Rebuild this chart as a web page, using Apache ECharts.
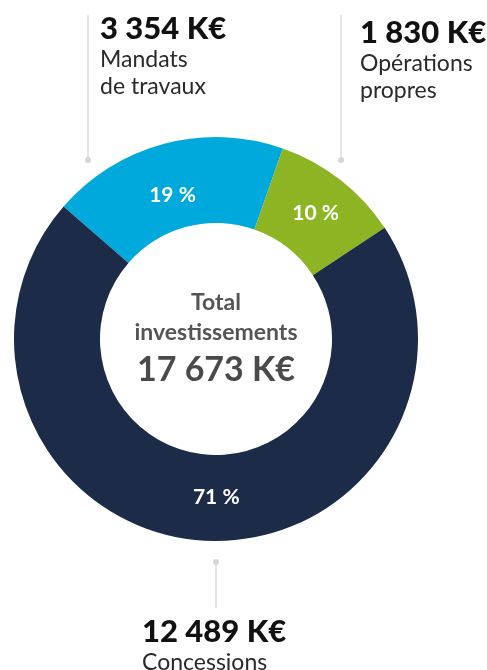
<!DOCTYPE html>
<html>
<head>
<meta charset="utf-8">
<script src="https://cdn.jsdelivr.net/npm/echarts@6/dist/echarts.min.js"></script>
<style>
  html, body { margin: 0; padding: 0; background: #fff; }
  #chart { width: 487px; height: 670px; }
</style>
</head>
<body>
<div id="chart"></div>
<script>
// =====================
// Data
// =====================
const CATEGORIES = ["Mandats\nde travaux", "Opérations\npropres", "Concessions"]
const VALUES = [3354, 1830, 12489]   // K€
const COLORS = ["#00a9dc", "#8cb423", "#1b2b48"]
const TOTAL_LABEL = ["Total", "investissements"]

const FONT = "Lato, 'Noto Sans', sans-serif"

function fmtK(v) {
  return String(v).replace(/\B(?=(\d{3})+(?!\d))/g, " ") + " K€"
}

const total = VALUES.reduce((a, b) => a + b, 0)

// =====================
// Layout of annotations
// =====================
const NOTES = [
  { x: 100, y: 29, lineX: 88, lineTop: 15, lineBottom: 160 },
  { x: 360, y: 33, lineX: 341, lineTop: 15, lineBottom: 160 },
  { x: 142, y: 632, lineX: 216, lineTop: 562, lineBottom: 608, dotTop: true }
]
// nudges for the in-slice percentage labels
const LABEL_OFFSETS = [[-2, 13], [0, 2], [11, -3]]

const graphics = []

NOTES.forEach((n, i) => {
  const dotY = n.dotTop ? n.lineTop : n.lineBottom
  graphics.push({
    type: "line",
    shape: { x1: n.lineX, y1: n.lineTop, x2: n.lineX, y2: n.lineBottom },
    style: { stroke: "#dcdcdc", lineWidth: 1.5 }
  })
  graphics.push({
    type: "circle",
    shape: { cx: n.lineX, cy: dotY, r: 3 },
    style: { fill: "#d6d6d6" }
  })
  graphics.push({
    type: "text",
    x: n.x,
    y: n.y,
    style: {
      text: fmtK(VALUES[i]),
      font: `900 31px ${FONT}`,
      fill: "#111",
      verticalAlign: "middle",
      align: "left"
    }
  })
  CATEGORIES[i].split("\n").forEach((line, k) => {
    graphics.push({
      type: "text",
      x: n.x,
      y: n.y + 31 + k * 27,
      style: {
        text: line,
        font: `23px ${FONT}`,
        fill: "#2a2a2a",
        verticalAlign: "middle",
        align: "left"
      }
    })
  })
})

// center text
TOTAL_LABEL.forEach((line, k) => {
  graphics.push({
    type: "text",
    x: 216,
    y: 303 + k * 30,
    style: {
      text: line,
      font: `bold 23px ${FONT}`,
      fill: "#555",
      verticalAlign: "middle",
      align: "center"
    }
  })
})
graphics.push({
  type: "text",
  x: 216,
  y: 370,
  style: {
    text: fmtK(total),
    font: `bold 34px ${FONT}`,
    fill: "#4a4a4a",
    verticalAlign: "middle",
    align: "center"
  }
})

// =====================
// Chart
// =====================
const chart = echarts.init(document.getElementById("chart"))

chart.setOption({
  animation: false,
  graphic: graphics,
  series: [{
    type: "pie",
    center: [216, 339],
    radius: [116, 202],
    startAngle: 139,
    clockwise: true,
    silent: true,
    avoidLabelOverlap: false,
    itemStyle: { borderWidth: 0 },
    label: {
      show: true,
      position: "inside",
      formatter: p => Math.round(p.percent) + " %",
      color: "#fff",
      fontFamily: FONT,
      fontSize: 21,
      fontWeight: "bold"
    },
    labelLine: { show: false },
    data: VALUES.map((v, i) => ({
      name: CATEGORIES[i],
      value: v,
      itemStyle: { color: COLORS[i] },
      label: { offset: LABEL_OFFSETS[i] }
    }))
  }]
})
</script>
</body>
</html>
